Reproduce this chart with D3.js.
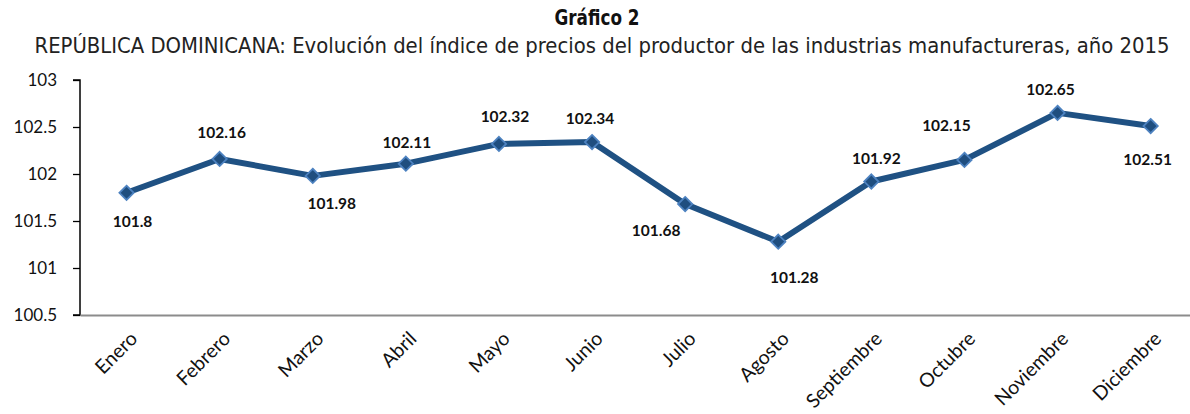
<!DOCTYPE html>
<html>
<head>
<meta charset="utf-8">
<script src="https://cdn.jsdelivr.net/npm/d3@7"></script>
<style>
  body { margin: 0; background: #fff; }
  svg { display: block; }
</style>
</head>
<body>
<svg id="chart" width="1190" height="414"></svg>
<script>
const months = ["Enero","Febrero","Marzo","Abril","Mayo","Junio","Julio","Agosto","Septiembre","Octubre","Noviembre","Diciembre"];
const values = [101.8,102.16,101.98,102.11,102.32,102.34,101.68,101.28,101.92,102.15,102.65,102.51];
const valueLabels = ["101.8","102.16","101.98","102.11","102.32","102.34","101.68","101.28","101.92","102.15","102.65","102.51"];
const yTicks = [100.5,101,101.5,102,102.5,103];
const yTickLabels = ["100.5","101","101.5","102","102.5","103"];
// label placement nudges (pixels relative to the point), styling only
const labelDx = [6,2,19,1,6,-2,-29,16,5,-18,-7,-3];
const labelDy = [29,-26,28,-21,-27,-23,26,36,-23,-34,-23,34];

const title = "Gráfico 2";
const subtitle = "REPÚBLICA DOMINICANA: Evolución del índice de precios del productor de las industrias manufactureras, año 2015";

const svg = d3.select("#chart");
const margin = {left: 80, top: 80, bottom: 315};
const band = 93.1;
const x = d3.scaleBand().domain(months).range([margin.left, margin.left + band * months.length]).padding(0);
const y = d3.scaleLinear().domain([100.5, 103]).range([margin.bottom, margin.top]);
const cx = d => x(d) + x.bandwidth() / 2;

// Titles
svg.append("text").attr("x", 597).attr("y", 25).attr("text-anchor", "middle")
  .attr("font-family", "'Liberation Sans Narrow','DejaVu Sans Condensed','Roboto',sans-serif")
  .attr("font-weight", "bold").attr("font-size", 21).attr("fill", "#111")
  .attr("textLength", 85).attr("lengthAdjust", "spacingAndGlyphs")
  .text(title);
svg.append("text").attr("x", 602).attr("y", 53).attr("text-anchor", "middle")
  .attr("font-family", "'Liberation Sans Narrow','DejaVu Sans Condensed','Roboto',sans-serif")
  .attr("font-size", 21).attr("fill", "#222")
  .attr("textLength", 1135).attr("lengthAdjust", "spacingAndGlyphs")
  .text(subtitle);

// Y axis
const yAxis = d3.axisLeft(y).tickValues(yTicks).tickFormat((d, i) => yTickLabels[i]).tickSize(7).tickPadding(16);
const gy = svg.append("g").attr("transform", `translate(${margin.left},0)`).call(yAxis);
gy.select(".domain").attr("stroke", "#000").attr("stroke-width", 1.5).attr("d", `M-7,${y(103)}H0V${y(100.5)}H-7`);
gy.selectAll(".tick line").attr("stroke", "#000").attr("stroke-width", 1.3);
gy.selectAll(".tick text").attr("font-family", "Lato, 'Open Sans', sans-serif").attr("font-size", 17).attr("fill", "#111");

// X axis
const xAxis = d3.axisBottom(x).tickSize(0).tickPadding(0);
const gx = svg.append("g").attr("transform", `translate(0,${margin.bottom})`).call(xAxis);
gx.select(".domain").attr("stroke", "#8c8c8c").attr("stroke-width", 2.2);
gx.selectAll(".tick text")
  .attr("font-family", "Lato, 'Open Sans', sans-serif").attr("font-size", 19.5).attr("fill", "#111")
  .attr("text-anchor", "end")
  .attr("y", 0).attr("dy", 0)
  .attr("transform", "translate(12,25) rotate(-45)");

// Line
const line = d3.line().x((d, i) => cx(months[i])).y(d => y(d));
svg.append("path").datum(values).attr("d", line)
  .attr("fill", "none").attr("stroke", "#1f5183").attr("stroke-width", 6).attr("stroke-linejoin", "round");

// Markers
svg.selectAll(".mk").data(values).enter().append("path")
  .attr("class", "mk")
  .attr("d", d3.symbol().type(d3.symbolDiamond2).size(130))
  .attr("transform", (d, i) => `translate(${cx(months[i])},${y(d)})`)
  .attr("fill", "#1f4e7f").attr("stroke", "#4d82c0").attr("stroke-width", 1.8);

// Data labels
svg.selectAll(".lbl").data(values).enter().append("text")
  .attr("class", "lbl")
  .attr("x", (d, i) => cx(months[i]) + labelDx[i])
  .attr("y", (d, i) => y(d) + labelDy[i])
  .attr("dy", "0.35em")
  .attr("text-anchor", "middle")
  .attr("font-family", "Lato, 'Open Sans', sans-serif").attr("font-weight", "bold")
  .attr("font-size", 15.5).attr("fill", "#111")
  .text((d, i) => valueLabels[i]);
</script>
</body>
</html>
